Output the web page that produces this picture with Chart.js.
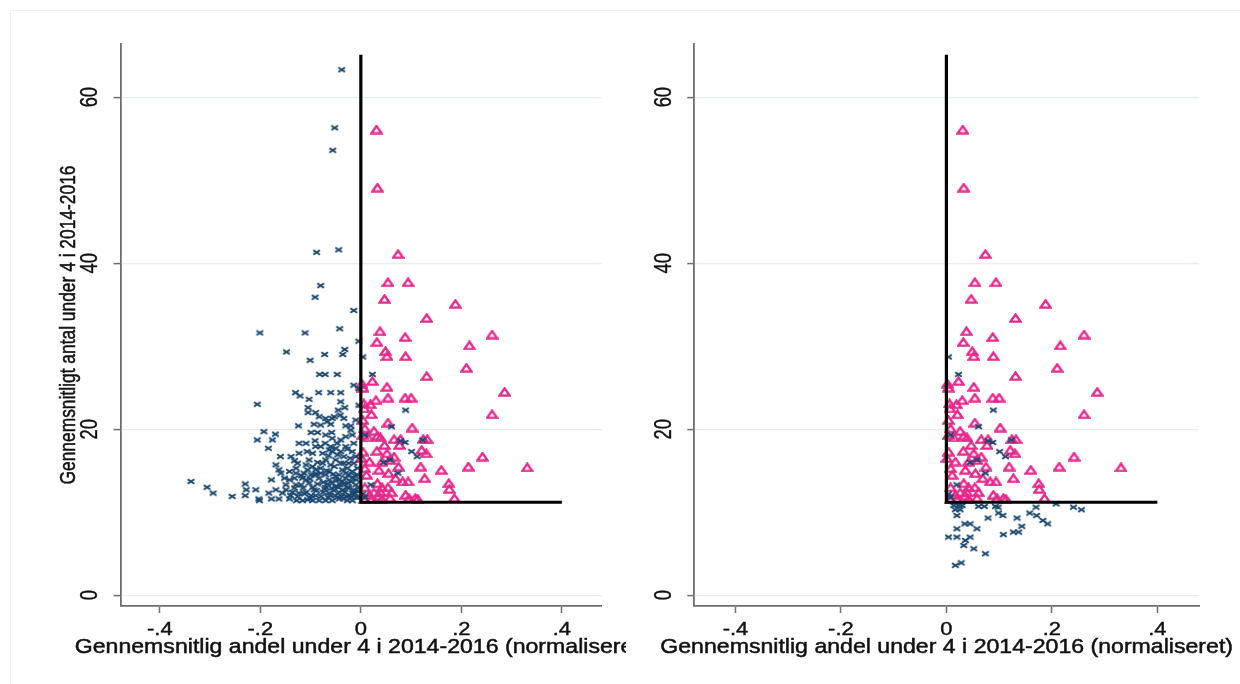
<!DOCTYPE html>
<html>
<head>
<meta charset="utf-8">
<script src="https://cdn.jsdelivr.net/npm/chart.js@4.4.1/dist/chart.umd.min.js"></script>
<style>
  html, body { margin: 0; padding: 0; background: #fff; }
  #wrap { position: relative; width: 1240px; height: 684px; overflow: hidden; background: #fff; }
  #wrap canvas { position: absolute; top: 0; }
  #left { left: 0; }
  #right { left: 626px; }
  .frame { position: absolute; left: 10px; top: 10px; width: 1300px; height: 760px;
           border-left: 1px solid #f0f0f0; border-top: 1px solid #f0f0f0; }
</style>
</head>
<body>
<div id="wrap">
  <div class="frame"></div>
  <canvas id="left" width="626" height="684"></canvas>
  <canvas id="right" width="614" height="684"></canvas>
</div>
<script>
// Axis ticks and labels
const xTickValues = [-0.4, -0.2, 0, 0.2, 0.4];
const xTickLabels = ['-.4', '-.2', '0', '.2', '.4'];
const yTickValues = [0, 20, 40, 60];
const xRange = [-0.478, 0.479];
const yRange = [-1.3, 66.4];

const xTitle = 'Gennemsnitlig andel under 4 i 2014-2016 (normaliseret)';
const yTitle = 'Gennemsnitligt antal under 4 i 2014-2016';

// Reference corner: vertical at 0 from the top down to the cutoff, then along the cutoff to .4
const cutoffY = 11.2;
const cornerTopY = 65.1;
const cornerEndX = 0.4;

// Triangles (share above 0 and count above cutoff) – same in both panels
const triangles = [
  [0.031,56.1],[0.033,49.1],[0.074,41.1],[0.054,37.7],[0.094,37.7],[0.047,35.7],[0.188,35.1],
  [0.131,33.4],[0.038,31.8],[0.261,31.4],[0.088,31.1],[0.032,30.5],[0.216,30.1],[0.049,29.4],
  [0.052,28.8],[0.089,28.8],[0.210,27.4],[0.131,26.4],[0.023,25.8],[0.002,25.5],[0.004,25.0],
  [0.052,25.1],[0.286,24.5],[0.054,23.8],[0.088,23.8],[0.100,23.8],[0.030,23.5],[0.006,23.1],
  [0.019,23.0],[0.007,22.5],[0.021,21.8],[0.261,21.8],[0.004,21.1],[0.054,20.8],[0.102,20.2],
  [0.008,20.1],[0.026,19.8],[0.004,19.3],[0.033,19.2],[0.014,19.0],[0.039,19.0],[0.066,18.8],
  [0.079,18.8],[0.124,18.8],[0.132,18.8],[0.077,18.1],[0.047,18.1],[0.121,17.5],[0.032,17.4],
  [0.004,17.3],[0.130,17.1],[0.052,17.1],[0.066,16.7],[0.242,16.7],[0.001,16.5],[0.058,16.3],
  [0.042,16.1],[0.017,16.1],[0.075,15.5],[0.119,15.5],[0.214,15.5],[0.008,15.3],[0.036,15.1],
  [0.160,15.1],[0.055,14.7],[0.011,14.5],[0.069,14.1],[0.127,14.1],[0.083,13.7],[0.094,13.7],
  [0.033,13.5],[0.175,13.5],[0.008,13.0],[0.042,13.0],[0.054,13.0],[0.176,12.8],[0.026,12.4],
  [0.039,12.4],[0.061,12.4],[0.017,12.1],[0.036,12.0],[0.089,12.1],[0.108,11.7],[0.096,11.7],
  [0.113,11.6],[0.186,11.7],[0.058,11.7],[0.042,11.6],[0.020,11.6],[0.008,11.6],[0.331,15.4]
];

// Crosses with share above 0 and count above cutoff – drawn in both panels
const crossesShared = [
  [0.004,28.7],[0.023,26.6],[0.089,22.3],[0.061,20.3],[0.008,19.3],[0.079,18.6],[0.088,18.4],
  [0.123,18.7],[0.101,17.3],[0.112,16.7],[0.058,16.3],[0.045,16.0],[0.074,14.7],[0.020,13.3],
  [0.008,11.8],[0.004,12.2]
];

// Crosses with share below 0 (left panel)
const crossesNegative = [
  [-0.038,63.3],[-0.052,56.3],[-0.056,53.6],[-0.088,41.3],[-0.044,41.6],[-0.080,37.3],[-0.091,35.9],
  [-0.014,34.3],[-0.042,32.1],[-0.201,31.6],[-0.111,31.6],[-0.004,30.6],[-0.148,29.3],[-0.072,29.0],
  [-0.032,29.6],[-0.036,29.0],[-0.101,28.3],[-0.082,26.6],[-0.071,26.6],[-0.047,26.6],[-0.014,25.3],
  [-0.004,24.9],[-0.130,24.4],[-0.121,24.0],[-0.103,23.6],[-0.084,24.4],[-0.060,24.4],[-0.040,24.4],
  [-0.206,23.0],[-0.040,23.3],[-0.105,22.6],[-0.032,22.6],[-0.045,22.3],[-0.105,22.0],[-0.090,22.0],
  [-0.083,21.5],[-0.070,21.3],[-0.057,21.3],[-0.041,21.7],[-0.004,22.9],
  [-0.124,20.4],[-0.093,20.6],[-0.060,20.6],[-0.030,20.4],[-0.020,20.4],[-0.193,19.7],[-0.170,19.4],
  [-0.099,19.6],[-0.086,19.6],[-0.058,19.6],[-0.017,19.3],[-0.206,18.7],[-0.176,18.7],[-0.123,18.3],
  [-0.109,18.3],[-0.091,18.6],[-0.071,18.3],[-0.047,18.3],[-0.030,17.9],[-0.184,17.7],[-0.107,17.3],
  [-0.096,17.1],[-0.076,17.1],[-0.057,17.3],[-0.017,17.3],[-0.160,16.7],[-0.139,16.7],[-0.132,16.2],
  [-0.126,15.9],[-0.169,15.7],[-0.109,15.7],[-0.096,15.5],[-0.070,16.3],[-0.050,16.3],[-0.034,16.7],
  [-0.024,15.9],[-0.163,15.1],[-0.159,14.7],[-0.142,14.9],[-0.129,14.7],[-0.113,14.7],[-0.090,15.1],
  [-0.063,14.9],[-0.037,15.1],[-0.017,14.9],[-0.152,14.1],[-0.142,13.9],[-0.132,14.1],[-0.109,13.9],
  [-0.083,14.1],[-0.063,13.9],[-0.050,14.3],[-0.030,14.1],[-0.009,13.9],[-0.178,13.9],[-0.338,13.7],
  [-0.306,13.0],[-0.294,12.3],[-0.256,11.9],[-0.230,13.4],[-0.228,12.7],[-0.230,12.0],[-0.209,12.7],
  [-0.203,11.6],[-0.202,11.4],[-0.183,12.3],[-0.178,11.6],[-0.163,11.6],[-0.149,12.7],[-0.136,12.4],
  [-0.142,11.6],[-0.128,11.4],[-0.119,13.3],[-0.109,12.4],[-0.106,11.5],[-0.096,13.0],[-0.090,12.0],
  [-0.083,11.4],[-0.070,13.0],[-0.063,12.3],[-0.057,11.4],[-0.050,13.1],[-0.043,12.4],[-0.034,11.6],
  [-0.027,13.0],[-0.017,12.3],[-0.010,13.3],[-0.004,11.8],[-0.027,11.4],[-0.070,11.4],[-0.096,11.4],
  [-0.116,11.4],[-0.080,14.7],[-0.053,15.5],[-0.040,15.9],[-0.076,15.9],[-0.060,17.9],[-0.080,17.9],
  [-0.123,17.1],[-0.030,19.1],[-0.057,18.9],[-0.040,17.3],[-0.014,18.3],[-0.010,16.7],[-0.014,15.9],
  [-0.007,15.3],[-0.007,14.5],[-0.004,12.9],[-0.057,13.5],[-0.037,13.7],[-0.020,13.7],[-0.103,13.5],
  [-0.129,13.3],[-0.043,14.5],[-0.024,14.5],[-0.099,14.5],[-0.043,11.6],[-0.017,11.4],
  [-0.132,12.9],[-0.123,12.3],[-0.115,12.9],[-0.099,12.0],[-0.093,12.7],[-0.086,13.4],[-0.075,12.4],
  [-0.065,11.8],[-0.058,12.9],[-0.051,12.0],[-0.045,13.0],[-0.038,11.9],[-0.032,12.4],[-0.025,13.5],
  [-0.022,12.0],[-0.014,12.7],[-0.009,11.8],[-0.116,14.1],[-0.106,15.1],[-0.093,14.5],[-0.070,14.5],
  [-0.050,13.9],[-0.030,14.7],[-0.017,14.1],[-0.034,15.9],[-0.060,15.7],[-0.080,15.3],[-0.103,16.3],
  [-0.063,17.5],[-0.050,17.7],[-0.027,17.6],[-0.040,18.7],[-0.070,19.3],[-0.090,17.9],[-0.020,19.9],
  [-0.010,21.1],[-0.034,21.3],[-0.053,21.5],[-0.067,20.9],[-0.080,20.5],[-0.129,15.3],[-0.149,13.3],
  [-0.156,12.3],[-0.169,12.7],
  [-0.140,12.0],[-0.125,11.9],[-0.112,12.2],[-0.101,11.7],[-0.088,12.6],[-0.079,11.9],[-0.072,12.8],
  [-0.066,13.4],[-0.061,12.0],[-0.054,12.6],[-0.047,11.8],[-0.041,13.3],[-0.036,12.7],[-0.029,11.9],
  [-0.024,12.9],[-0.019,11.8],[-0.012,12.3],[-0.006,12.5],[-0.118,14.4],[-0.101,14.0],[-0.088,14.6],
  [-0.075,13.6],[-0.068,15.0],[-0.055,14.6],[-0.044,13.9],[-0.033,13.4],[-0.027,15.3],[-0.012,14.4],
  [-0.086,16.0],[-0.064,16.8],[-0.046,16.9],[-0.021,16.5]
];

// Crosses with share above 0 and count below cutoff (right panel)
const crossesBelow = [
  [0.014,10.8],[0.023,10.8],[0.030,10.8],[0.017,10.3],[0.026,10.3],[0.020,9.6],[0.061,10.7],
  [0.072,10.7],[0.093,10.7],[0.098,10.6],[0.099,9.9],[0.107,9.6],[0.079,9.3],[0.134,9.3],
  [0.158,9.9],[0.171,9.6],[0.170,10.6],[0.208,11.0],[0.241,10.6],[0.256,10.3],[0.183,9.0],
  [0.192,8.6],[0.035,8.6],[0.045,8.6],[0.058,8.0],[0.020,8.0],[0.143,8.3],[0.137,7.6],
  [0.127,7.6],[0.108,7.3],[0.004,7.0],[0.020,7.0],[0.036,6.6],[0.045,7.0],[0.033,6.0],
  [0.052,5.6],[0.074,5.0],[0.017,3.6],[0.028,3.9]
];

const navy = '#1a476f';
const pink = '#e8288c';
const axisGray = '#6f6f6f';
const gridColor = '#e6eeee';
const textColor = '#111';
const fontFamily = '"Liberation Sans", Arial, Helvetica, sans-serif';

// Marker glyphs: a small x and a hollow triangle
function crossMarker() {
  const c = document.createElement('canvas');
  c.width = 9; c.height = 7;
  const g = c.getContext('2d');
  g.strokeStyle = navy; g.lineWidth = 2;
  g.beginPath();
  g.moveTo(1.2, 1.2); g.lineTo(7.8, 5.8);
  g.moveTo(7.8, 1.2); g.lineTo(1.2, 5.8);
  g.stroke();
  return c;
}
function triangleMarker() {
  const c = document.createElement('canvas');
  c.width = 13; c.height = 10;
  const g = c.getContext('2d');
  g.strokeStyle = pink; g.lineWidth = 2.4; g.lineJoin = 'miter';
  g.beginPath();
  g.moveTo(6.5, 1.5); g.lineTo(11.5, 8.6); g.lineTo(1.5, 8.6); g.closePath();
  g.stroke();
  return c;
}
const crossImg = crossMarker();
const triImg = triangleMarker();

const toPoints = arr => arr.map(([x, y]) => ({ x, y }));

// Filled text with a hairline outline so the glyphs carry a little more weight
function heavyText(ctx, text, weight) {
  ctx.fillText(text, 0, 0);
  ctx.lineWidth = weight;
  ctx.strokeText(text, 0, 0);
}

// Axis labels and titles, placed from the chart's own scales
const panelText = {
  id: 'panelText',
  afterDraw(chart, args, opts) {
    const ctx = chart.ctx;
    const xs = chart.scales.x, ys = chart.scales.y;
    const area = chart.chartArea;
    ctx.save();
    ctx.fillStyle = textColor;
    ctx.strokeStyle = textColor;

    // y tick labels, rotated
    ctx.font = '18.4px ' + fontFamily;
    ctx.textAlign = 'center';
    ctx.textBaseline = 'middle';
    yTickValues.forEach(v => {
      ctx.save();
      ctx.translate(area.left - 30, ys.getPixelForValue(v));
      ctx.scale(1.35, 1);
      ctx.rotate(-Math.PI / 2);
      heavyText(ctx, String(v), 0.3);
      ctx.restore();
    });

    // x tick labels
    ctx.font = '18.3px ' + fontFamily;
    ctx.textBaseline = 'alphabetic';
    xTickValues.forEach((v, i) => {
      ctx.save();
      ctx.translate(xs.getPixelForValue(v), area.bottom + 29.4);
      ctx.scale(1.2, 1);
      heavyText(ctx, xTickLabels[i], 0.4);
      ctx.restore();
    });

    // x title
    ctx.font = '21px ' + fontFamily;
    ctx.save();
    ctx.translate((area.left + area.right) / 2, area.bottom + 47);
    ctx.scale(1.1, 1);
    heavyText(ctx, xTitle, 0.5);
    ctx.restore();

    // y title
    if (opts.showYTitle) {
      ctx.font = '17.4px ' + fontFamily;
      ctx.textBaseline = 'middle';
      ctx.save();
      ctx.translate(68.6, (area.top + area.bottom) / 2);
      ctx.scale(1.3, 1);
      ctx.rotate(-Math.PI / 2);
      heavyText(ctx, yTitle, 0.4);
      ctx.restore();
    }
    ctx.restore();
  }
};

function cornerDataset() {
  return {
    data: [{ x: 0, y: cornerTopY }, { x: 0, y: cutoffY }, { x: cornerEndX, y: cutoffY }],
    showLine: true, borderColor: '#000', borderWidth: 3.2, pointRadius: 0,
    borderJoinStyle: 'miter', borderCapStyle: 'butt', fill: false
  };
}
function markerDataset(points, img) {
  return { data: toPoints(points), pointStyle: img, pointRadius: 4, pointHoverRadius: 4, showLine: false };
}

function makePanel(canvasId, datasets, axisLeft, plotRight, showYTitle) {
  const canvas = document.getElementById(canvasId);
  return new Chart(canvas, {
    type: 'scatter',
    data: { datasets },
    options: {
      responsive: false,
      animation: false,
      devicePixelRatio: 1,
      events: [],
      layout: { padding: { left: 0, right: canvas.width - plotRight, top: 44, bottom: 38 } },
      plugins: {
        legend: { display: false },
        tooltip: { enabled: false },
        panelText: { showYTitle }
      },
      scales: {
        x: {
          type: 'linear', min: xRange[0], max: xRange[1],
          afterBuildTicks: s => { s.ticks = xTickValues.map(v => ({ value: v })); },
          afterFit: s => { s.height = 40; },
          ticks: { display: false },
          grid: { drawOnChartArea: false, drawTicks: true, tickLength: 7, tickColor: axisGray, tickWidth: 1.5 },
          border: { display: true, color: axisGray, width: 1.8 }
        },
        y: {
          type: 'linear', min: yRange[0], max: yRange[1],
          afterBuildTicks: s => { s.ticks = yTickValues.map(v => ({ value: v })); },
          afterFit: s => { s.width = axisLeft; },
          ticks: { display: false },
          grid: { color: gridColor, lineWidth: 1.2, drawTicks: true, tickLength: 7, tickColor: axisGray, tickWidth: 1.5 },
          border: { display: true, color: axisGray, width: 1.8 }
        }
      }
    },
    plugins: [panelText]
  });
}

// Left panel: everything above the cutoff
makePanel('left', [
  cornerDataset(),
  markerDataset(crossesNegative.concat(crossesShared), crossImg),
  markerDataset(triangles, triImg)
], 120.6, 601.6, true);

// Right panel: everything with share above 0
makePanel('right', [
  cornerDataset(),
  markerDataset(crossesShared.concat(crossesBelow), crossImg),
  markerDataset(triangles, triImg)
], 68.3, 573, false);
</script>
</body>
</html>
